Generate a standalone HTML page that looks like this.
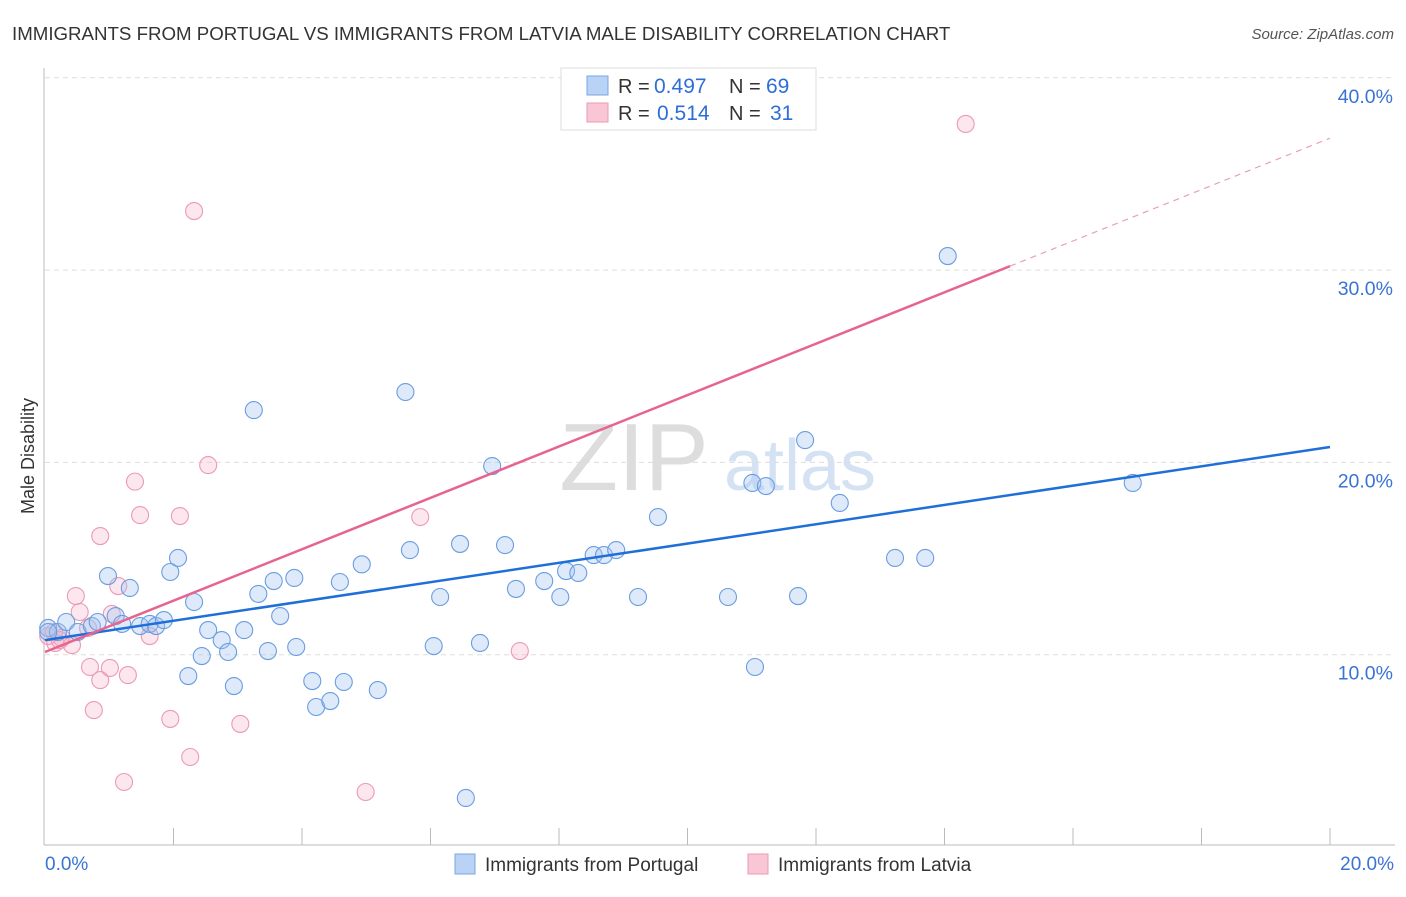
<!DOCTYPE html>
<html><head><meta charset="utf-8"><style>
body{margin:0;background:#fff;font-family:"Liberation Sans",sans-serif;}
svg text{font-family:"Liberation Sans",sans-serif;}
</style></head><body>
<svg id="c" width="1406" height="892">
<text x="12" y="40" font-size="18.7" fill="#333">IMMIGRANTS FROM PORTUGAL VS IMMIGRANTS FROM LATVIA MALE DISABILITY CORRELATION CHART</text>
<text x="1394" y="39" font-size="15" fill="#555" font-style="italic" text-anchor="end">Source: ZipAtlas.com</text>
<text x="34" y="456" font-size="18" fill="#333" transform="rotate(-90 34 456)" text-anchor="middle">Male Disability</text>
<g><text x="634" y="490" font-size="96" fill="#ddd" font-family="Liberation Serif" text-anchor="middle">ZIP</text><text x="800" y="490" font-size="72" fill="#d4e2f4" text-anchor="middle">atlas</text></g>
<g id="grid"></g><g id="axes"></g><g id="pts"></g><g id="lines"></g>
<g>
<rect x="561" y="68" width="255" height="62" fill="#fff" stroke="#ddd"/>
<rect x="587" y="76" width="21" height="19" fill="#b8d3f5" stroke="#7aa7e0"/>
<rect x="587" y="103" width="21" height="19" fill="#f9c6d5" stroke="#ec9ab3"/>
<text x="618" y="93" font-size="20" fill="#333">R =</text><text x="654" y="93" font-size="21" fill="#2d6fd6">0.497</text>
<text x="729" y="93" font-size="20" fill="#333">N =</text><text x="766" y="93" font-size="21" fill="#2d6fd6">69</text>
<text x="618" y="120" font-size="20" fill="#333">R =</text><text x="657" y="120" font-size="21" fill="#2d6fd6">0.514</text>
<text x="729" y="120" font-size="20" fill="#333">N =</text><text x="770" y="120" font-size="21" fill="#2d6fd6">31</text>
</g>
<g>
<rect x="455" y="854" width="20" height="20" fill="#b8d3f5" stroke="#7aa7e0"/>
<text x="485" y="871" font-size="19" fill="#333">Immigrants from Portugal</text>
<rect x="748" y="854" width="20" height="20" fill="#f9c6d5" stroke="#ec9ab3"/>
<text x="778" y="871" font-size="19" fill="#333">Immigrants from Latvia</text>
</g>
</svg>
<script>
const yTicks=[10,20,30,40];
const xTickLabels=["0.0%","20.0%"];
const blueX=[0.05,0.2,0.33,0.51,0.73,0.82,0.98,1.1,1.2,1.32,1.48,1.63,1.73,1.85,1.95,2.07,2.23,2.32,2.44,2.54,2.75,2.85,2.94,3.1,3.25,3.32,3.47,3.56,3.66,3.88,3.91,4.16,4.22,4.44,4.59,4.65,4.93,5.18,5.61,5.68,6.05,6.15,6.46,6.55,6.77,6.96,7.16,7.33,7.77,8.02,8.11,8.3,8.54,8.7,8.89,9.23,9.54,10.63,11.01,11.05,11.22,11.72,11.83,12.37,13.23,13.7,14.05,16.93,0.05];
const blueY=[11.39,11.18,11.7,11.18,11.49,11.7,14.09,12.01,11.6,13.47,11.49,11.6,11.49,11.8,14.3,15.03,8.89,12.74,9.93,11.28,10.76,10.14,8.37,11.28,22.72,13.16,10.19,13.83,12.01,13.99,10.4,8.63,7.28,7.59,13.78,8.58,14.7,8.16,23.66,15.44,10.45,13.0,15.76,2.55,10.61,19.81,15.7,13.42,13.83,13.0,14.35,14.25,15.18,15.18,15.44,13.0,17.16,13.0,18.93,9.36,18.77,13.05,21.16,17.89,15.03,15.03,30.73,18.93,11.18];
const pinkX=[0.05,0.16,0.26,0.42,0.48,0.54,0.67,0.7,0.76,0.86,1.01,1.04,1.14,1.23,1.29,1.4,1.48,1.63,1.95,2.1,2.26,2.32,2.54,3.04,4.99,5.84,7.39,14.33,0.86,0.23,0.14];
const pinkY=[10.97,10.61,10.87,10.5,13.05,12.22,11.39,9.36,7.12,8.68,9.31,12.12,13.57,3.38,8.94,19.0,17.26,10.97,6.66,17.21,4.68,33.07,19.86,6.4,2.86,17.16,10.19,37.6,16.17,10.76,11.18];
const blueLine=[10.76,20.8];
const pinkLine=[10.14,1.336,15.02]; // intercept, slope, solid end
const X=v=>45+v/20*1285, Y=v=>847-v*19.23;
const NS="http://www.w3.org/2000/svg";
function mk(p,t,a){const e=document.createElementNS(NS,t);for(const k in a)e.setAttribute(k,a[k]);document.getElementById(p).appendChild(e);return e;}
yTicks.forEach(t=>{
 const l=mk('grid','line',{x1:45,x2:1395,y1:Y(t),y2:Y(t),stroke:'#ddd','stroke-dasharray':'5,4'});
 
 
 const tx=mk('grid','text',{x:1393,y:Y(t)+25,'font-size':19.5,fill:'#3a73d4','text-anchor':'end'});
 tx.textContent=t.toFixed(1)+'%';
 
 
});
mk('axes','line',{x1:44,x2:44,y1:68,y2:845,stroke:'#bbb'});
mk('axes','line',{x1:44,x2:1395,y1:845,y2:845,stroke:'#bbb'});
for(let i=1;i<=10;i++){mk('axes','line',{x1:X(i*2),x2:X(i*2),y1:828,y2:845,stroke:'#bbb'});}
const xl0=mk('axes','text',{x:45,y:870,'font-size':19,fill:'#3a73d4'});xl0.textContent=xTickLabels[0];


const xl1=mk('axes','text',{x:1394,y:870,'font-size':19,fill:'#3a73d4','text-anchor':'end'});xl1.textContent=xTickLabels[1];


pinkX.forEach((v,i)=>{const c=mk('pts','circle',{cx:X(v),cy:Y(pinkY[i]),r:8.5,fill:'rgba(246,175,198,0.3)',stroke:'#ec9ab3','stroke-width':1.1});
 
 });
blueX.forEach((v,i)=>{const c=mk('pts','circle',{cx:X(v),cy:Y(blueY[i]),r:8.5,fill:'rgba(160,196,240,0.35)',stroke:'#6a9de0','stroke-width':1.1});
 
 });
const bl=mk('lines','line',{x1:X(0),y1:Y(blueLine[0]),x2:X(20),y2:Y(blueLine[1]),stroke:'#1f6fd8','stroke-width':2.5});


const pl=mk('lines','line',{x1:X(0),y1:Y(pinkLine[0]),x2:X(pinkLine[2]),y2:Y(pinkLine[0]+pinkLine[1]*pinkLine[2]),stroke:'#e8648f','stroke-width':2.5});


const pd=mk('lines','line',{x1:X(pinkLine[2]),y1:Y(pinkLine[0]+pinkLine[1]*pinkLine[2]),x2:X(20),y2:Y(pinkLine[0]+pinkLine[1]*20),stroke:'#e8a0b6','stroke-width':1.2,'stroke-dasharray':'6,5'});


</script>
</body></html>
